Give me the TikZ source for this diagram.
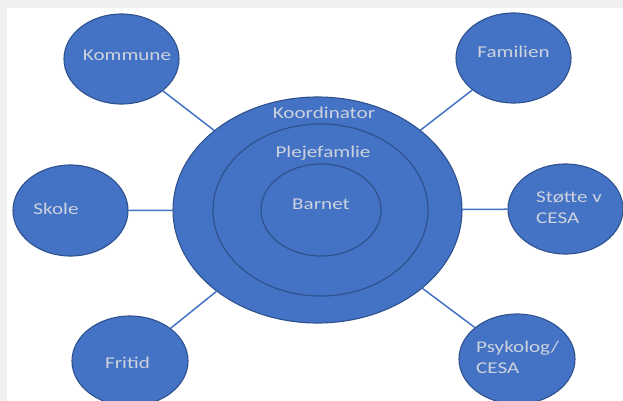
\documentclass[tikz,border=0pt]{standalone}
\usepackage{fontspec}
\setmainfont{Carlito}
\usetikzlibrary{shapes.geometric}
\definecolor{bgray}{HTML}{F0F0F0}
\definecolor{ofblue}{HTML}{4472C4}
\definecolor{ofdark}{HTML}{2F528F}
\definecolor{txt}{HTML}{CDD3DE}
\newcommand\lbl[1]{\scalebox{1.28}[1]{#1}}
\begin{document}
\begin{tikzpicture}[x=1pt,y=-1pt,
  bub/.style={ellipse, draw=ofdark, line width=1.1pt, fill=ofblue, inner sep=0pt},
  ring/.style={ellipse, draw=ofdark, line width=1.2pt, inner sep=0pt},
  lab/.style={text=txt, font=\fontsize{16.5}{21}\selectfont, inner sep=0pt},
  link/.style={draw=ofblue, line width=1.5pt}]
\useasboundingbox (0,0) rectangle (623,401);
\fill[bgray] (0,0) rectangle (623,401);
\fill[white] (7,8) rectangle (623,401);
\clip (0,0) rectangle (623,401);
% outer bubbles
\node[bub, minimum width=115pt, minimum height=90pt] (komm) at (121.5,59) {};
\node[bub, minimum width=115pt, minimum height=90pt] (fam) at (513.5,58) {};
\node[bub, minimum width=115pt, minimum height=91pt] (skole) at (70.5,210.5) {};
\node[bub, minimum width=115pt, minimum height=90pt] (stotte) at (565.5,209) {};
\node[bub, minimum width=116pt, minimum height=90pt] (fritid) at (130,361) {};
\node[bub, minimum width=116pt, minimum height=90pt] (psyk) at (517,359) {};
% centre
\node[bub, minimum width=289pt, minimum height=226pt] (big) at (317.5,210) {};
\node[ring, minimum width=215pt, minimum height=172pt] (mid) at (320.5,210) {};
\node[ring, minimum width=120pt, minimum height=92pt] (inner) at (321,210) {};
% connectors
\draw[link] (komm) -- (big);
\draw[link] (fam) -- (big);
\draw[link] (skole) -- (big);
\draw[link] (stotte) -- (big);
\draw[link] (fritid) -- (big);
\draw[link] (psyk) -- (big);
% texts
\node[lab, anchor=base] (tkomm) at (127,61) {\lbl{Kommune}};
\node[lab, anchor=base] (tfam) at (513.5,58) {\lbl{Familien}};
\node[lab, anchor=base] (tkoord) at (324,118) {\lbl{Koordinator}};
\node[lab, anchor=base] (tpleje) at (323,157) {\lbl{Plejefamlie}};
\node[lab, anchor=base] (tbarn) at (321,209) {\lbl{Barnet}};
\node[lab, anchor=base] (tskole) at (56,214) {\lbl{Skole}};
\node[lab, anchor=base] (tfrit) at (127.5,368) {\lbl{Fritid}};
\node[lab, anchor=base west] (tstot) at (536,202) {\lbl{\begin{tabular}[t]{@{}l@{}}Støtte v\\CESA\end{tabular}}};
\node[lab, anchor=base west] (tpsyk) at (476,352) {\lbl{\begin{tabular}[t]{@{}l@{}}Psykolog/\\CESA\end{tabular}}};
\end{tikzpicture}
\end{document}
